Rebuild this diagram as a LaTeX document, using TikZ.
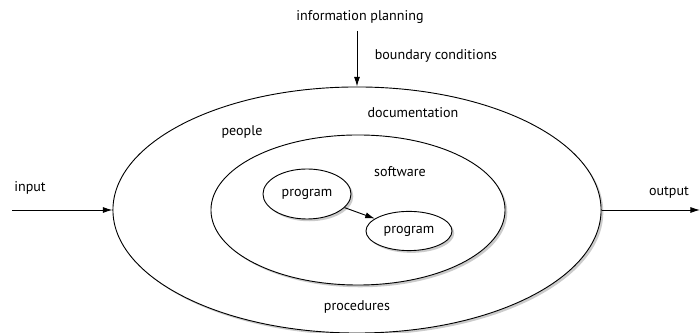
\documentclass[tikz,border=0pt]{standalone}
\usepackage{fontspec}
\setmainfont{PT Sans}
\usetikzlibrary{shapes.geometric}
\usetikzlibrary{arrows.meta}
\usetikzlibrary{shadows}
\tikzset{ring/.style={draw,ellipse,inner sep=0,fill=white,line width=0.65pt,
    drop shadow={shadow xshift=1.6pt,shadow yshift=-1.6pt,fill=black!40}}}
\tikzset{flow/.style={line width=0.65pt,-{Latex[length=2.4mm,width=1.5mm]}}}
\tikzset{word/.style={inner sep=1,font=\fontsize{10}{12}\selectfont}}

\begin{document}
\begin{tikzpicture}[x=0.025cm,y=-0.025cm]

            \useasboundingbox (0,0) rectangle (700,333);

            % the system and its parts
            \node[ring, minimum width=12.2cm, minimum height=6.15cm] (system) at (357,210) {};
            \node[ring, minimum width=7.35cm, minimum height=3.75cm] (soft) at (358,210) {};
            \node[ring, minimum width=2.2cm, minimum height=1.25cm, word] (progA) at (307,194) {program};
            \node[ring, minimum width=2.15cm, minimum height=0.98cm, word] (progB) at (409,231) {program};

            \node[word] (software) at (400,172) {software};
            \node[word] (people) at (242,132) {people};
            \node[word] (docu) at (413,113) {documentation};
            \node[word] (proc) at (357,307) {procedures};

            % outside world
            \node[word] (info) at (360,17) {information planning};
            \node[word] (bound) at (436,56) {boundary conditions};
            \node[word] (inlabel) at (30,188) {input};
            \node[word] (outlabel) at (669,193) {output};

            \coordinate (inStart) at (12,210);
            \coordinate (outEnd) at (700,210);
            \coordinate (topStart) at (357,31);

            \draw[flow] (inStart) -- (system.west);
            \draw[flow] (system.east) -- (outEnd);
            \draw[flow] (topStart) -- (system.north);
            \draw[flow] (progA) -- (progB);

\end{tikzpicture}
\end{document}
